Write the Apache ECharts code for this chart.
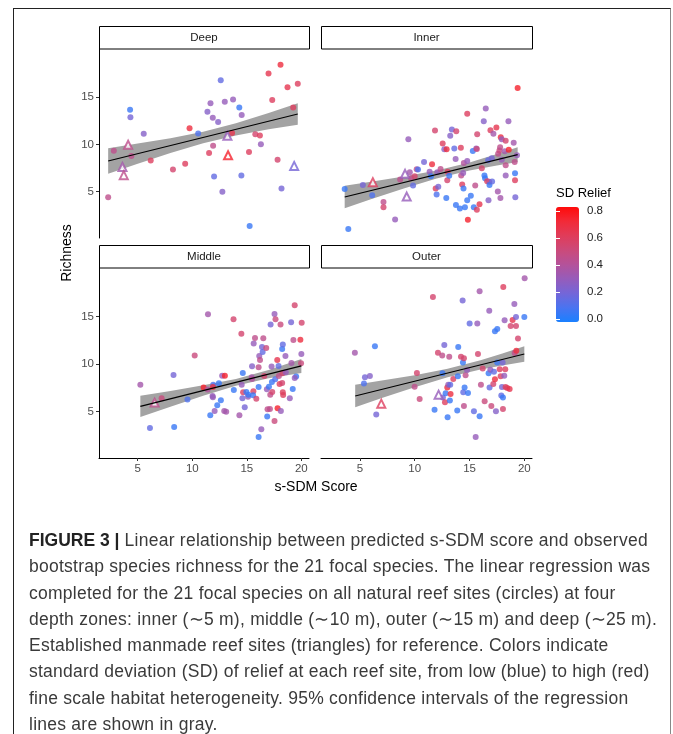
<!DOCTYPE html>
<html>
<head>
<meta charset="utf-8">
<script src="https://cdn.jsdelivr.net/npm/echarts@6/dist/echarts.min.js"></script>
<style>
  html, body { margin: 0; padding: 0; background: #fff; }
  #wrap { position: relative; width: 673px; height: 734px; overflow: hidden; }
  #chart { position: absolute; left: 0; top: 0; width: 673px; height: 734px; }
  #frame {
    position: absolute; left: 13px; top: 8px; width: 656px; height: 760px;
    border-left: 1.5px solid #222; border-top: 1.5px solid #222; border-right: 1.5px solid #888;
    pointer-events: none;
  }
  #caption {
    position: absolute; left: 29px; top: 527px; width: 640px;
    font-family: "Liberation Sans", Arial, sans-serif; font-size: 17.5px; line-height: 26.3px;
    letter-spacing: 0.25px; color: #3a3a3a; white-space: nowrap;
  }
  #caption b { color: #222; letter-spacing: 0; }
</style>
</head>
<body>
<div id="wrap">
  <div id="chart"></div>
  <div id="frame"></div>
  <div id="caption">
    <b>FIGURE 3 |</b> Linear relationship between predicted s-SDM score and observed<br>
    bootstrap species richness for the 21 focal species. The linear regression was<br>
    completed for the 21 focal species on all natural reef sites (circles) at four<br>
    depth zones: inner (∼5 m), middle (∼10 m), outer (∼15 m) and deep (∼25 m).<br>
    Established manmade reef sites (triangles) for reference. Colors indicate<br>
    standard deviation (SD) of relief at each reef site, from low (blue) to high (red)<br>
    fine scale habitat heterogeneity. 95% confidence intervals of the regression<br>
    lines are shown in gray.
  </div>
</div>
<script>
// panels (facets)
const panelNames = ["Deep", "Inner", "Middle", "Outer"];
const xTicks = [5, 10, 15, 20];
const yTicks = [5, 10, 15];
const sdTicks = [0, 0.2, 0.4, 0.6, 0.8];

// [s-SDM score, richness, SD relief]
const deepDots = [
  [2.29, 4.41, 0.45], [2.81, 9.34, 0.45], [4.30, 13.67, 0.05], [4.33, 12.87, 0.2], [4.42, 8.78, 0.45],
  [5.55, 11.12, 0.25], [6.19, 8.29, 0.6], [8.23, 7.34, 0.55], [9.35, 7.97, 0.6], [9.75, 11.71, 0.7],
  [10.54, 11.15, 0.1], [11.39, 13.46, 0.25], [11.67, 14.37, 0.3], [11.88, 12.83, 0.3], [12.37, 12.38, 0.25],
  [11.54, 9.09, 0.6], [11.91, 9.86, 0.45], [12.61, 16.78, 0.15], [12.98, 14.51, 0.3], [13.74, 14.76, 0.3],
  [12.00, 6.61, 0.15], [12.76, 5.0, 0.25], [13.65, 11.22, 0.65], [14.31, 13.92, 0.05], [14.53, 13.11, 0.3],
  [14.50, 6.71, 0.15], [15.20, 9.20, 0.6], [15.26, 1.36, 0.05], [15.78, 11.08, 0.55], [16.20, 10.94, 0.6],
  [16.29, 10.03, 0.3], [16.99, 17.52, 0.65], [17.33, 14.69, 0.6], [17.82, 8.39, 0.55], [18.09, 18.43, 0.7],
  [18.18, 5.35, 0.2], [18.73, 16.05, 0.65], [19.25, 13.92, 0.6], [19.67, 16.43, 0.6]
];
const deepTris = [
  [4.12, 9.97, 0.45], [3.60, 7.62, 0.35], [3.72, 6.75, 0.45], [13.22, 10.91, 0.3], [13.28, 8.85, 0.75], [19.34, 7.73, 0.2]
];
const deepFit = [[2.29, 8.25], [19.67, 13.22]];
const deepBandX = [2.29, 5, 8, 11, 14, 17, 19.67];
const deepBandLo = [6.90, 7.97, 9.10, 10.13, 10.95, 11.60, 12.09];
const deepBandHi = [9.60, 10.09, 10.66, 11.35, 12.25, 13.32, 14.35];

const innerDots = [
  [3.61, 5.28, 0.05], [3.94, 1.05, 0.05], [5.27, 5.70, 0.2], [6.12, 4.62, 0.1], [7.15, 3.92, 0.45],
  [7.15, 3.36, 0.55], [8.21, 2.06, 0.3], [8.67, 6.29, 0.45], [9.42, 10.56, 0.3], [9.55, 7.06, 0.35],
  [9.67, 6.43, 0.45], [9.85, 5.66, 0.15], [10.00, 6.64, 0.55], [10.18, 7.38, 0.45], [10.30, 7.34, 0.1],
  [10.85, 8.15, 0.2], [11.36, 7.10, 0.3], [11.48, 6.64, 0.05], [11.58, 7.90, 0.7], [11.85, 11.47, 0.55],
  [11.91, 5.35, 0.6], [12.00, 4.69, 0.1], [12.06, 7.06, 0.3], [12.15, 5.52, 0.2], [12.36, 7.41, 0.45],
  [12.55, 10.10, 0.6], [12.70, 9.48, 0.25], [12.91, 9.48, 0.7], [12.88, 4.34, 0.05], [13.00, 7.10, 0.6],
  [12.97, 6.22, 0.55], [13.15, 6.68, 0.05], [13.24, 10.91, 0.25], [13.39, 11.57, 0.2], [13.61, 9.58, 0.15],
  [13.73, 8.46, 0.3], [13.79, 11.40, 0.55], [13.76, 3.60, 0.05], [14.12, 3.22, 0.05], [14.21, 9.65, 0.6],
  [14.24, 6.71, 0.45], [14.33, 5.77, 0.6], [14.45, 5.35, 0.05], [14.42, 6.99, 0.3], [14.58, 3.36, 0.05],
  [14.48, 8.04, 0.4], [14.79, 13.25, 0.6], [14.79, 4.09, 0.05], [14.85, 2.03, 0.75], [14.79, 8.25, 0.3],
  [15.12, 4.58, 0.05], [15.30, 9.30, 0.05], [15.39, 3.36, 0.05], [15.52, 5.66, 0.45], [15.61, 9.58, 0.3],
  [15.67, 9.51, 0.5], [15.70, 11.08, 0.55], [15.67, 3.08, 0.6], [15.91, 3.67, 0.65], [16.12, 7.48, 0.55],
  [16.30, 12.45, 0.25], [16.36, 6.71, 0.05], [16.42, 6.43, 0.05], [16.48, 13.81, 0.3], [16.61, 6.11, 0.6],
  [16.70, 8.32, 0.15], [16.73, 4.09, 0.25], [16.79, 6.05, 0.45], [16.82, 5.70, 0.05], [16.91, 11.50, 0.6],
  [17.06, 6.08, 0.15], [17.03, 8.53, 0.2], [17.18, 11.12, 0.35], [17.45, 11.78, 0.65], [17.58, 5.03, 0.35],
  [17.61, 9.02, 0.45], [17.73, 9.37, 0.5], [17.79, 9.69, 0.45], [17.85, 10.77, 0.7], [17.82, 4.34, 0.35],
  [17.94, 10.56, 0.3], [17.94, 8.39, 0.3], [18.21, 9.27, 0.35], [18.30, 10.38, 0.55], [18.30, 6.71, 0.3],
  [18.30, 7.80, 0.45], [18.55, 12.45, 0.3], [18.58, 9.44, 0.75], [19.03, 10.17, 0.35], [19.12, 8.15, 0.45],
  [19.15, 6.96, 0.05], [19.15, 6.22, 0.6], [19.18, 4.41, 0.2], [19.33, 8.85, 0.3], [19.39, 15.98, 0.75]
];
const innerTris = [[6.18, 6.01, 0.6], [9.12, 6.89, 0.3], [9.27, 4.48, 0.3]];
const innerFit = [[3.61, 4.44], [19.39, 8.92]];
const innerBandX = [3.61, 6, 9, 12, 15, 17.5, 19.39];
const innerBandLo = [3.26, 4.19, 5.33, 6.39, 7.24, 7.78, 8.15];
const innerBandHi = [5.62, 6.05, 6.61, 7.25, 8.10, 8.98, 9.69];

const middleDots = [
  [5.24, 7.82, 0.35], [6.12, 3.26, 0.15], [7.19, 6.39, 0.5], [8.28, 8.84, 0.2], [8.34, 3.37, 0.05],
  [9.56, 6.25, 0.1], [10.22, 10.88, 0.5], [11.04, 7.51, 0.75], [11.44, 15.23, 0.35], [11.41, 7.30, 0.4],
  [11.65, 4.60, 0.05], [11.92, 7.82, 0.1], [11.89, 7.58, 0.7], [11.86, 6.63, 0.3], [11.89, 6.49, 0.3],
  [12.05, 5.05, 0.3], [12.29, 5.65, 0.05], [12.44, 7.96, 0.05], [12.62, 6.18, 0.05], [12.74, 8.77, 0.3],
  [12.93, 5.05, 0.35], [12.99, 8.77, 0.75], [13.11, 4.98, 0.35], [13.78, 14.70, 0.55], [13.81, 7.26, 0.05],
  [14.32, 4.60, 0.35], [14.50, 13.19, 0.55], [14.53, 7.82, 0.3], [14.63, 9.05, 0.05], [14.60, 6.39, 0.2],
  [14.66, 7.02, 0.6], [14.81, 5.44, 0.2], [14.96, 7.05, 0.05], [15.11, 6.56, 0.3], [15.14, 6.77, 0.05],
  [15.48, 9.75, 0.25], [15.45, 8.60, 0.35], [15.48, 8.42, 0.4], [15.60, 7.12, 0.6], [15.57, 6.70, 0.05],
  [15.63, 12.14, 0.3], [15.75, 12.74, 0.45], [15.87, 6.35, 0.55], [16.08, 9.65, 0.45], [16.08, 7.58, 0.05],
  [16.08, 2.32, 0.05], [16.14, 10.84, 0.3], [16.21, 10.42, 0.45], [16.33, 3.12, 0.3], [16.39, 11.79, 0.2],
  [16.45, 11.26, 0.15], [16.51, 12.70, 0.45], [16.60, 8.74, 0.55], [16.78, 11.68, 0.5], [16.84, 7.33, 0.3],
  [16.87, 4.46, 0.05], [16.90, 5.23, 0.45], [17.03, 7.61, 0.05], [17.12, 5.26, 0.45], [17.15, 6.77, 0.45],
  [17.18, 14.14, 0.2], [17.27, 9.72, 0.3], [17.30, 8.11, 0.05], [17.33, 7.05, 0.55], [17.54, 4.0, 0.5],
  [17.54, 15.26, 0.3], [17.63, 14.70, 0.5], [17.60, 8.39, 0.1], [17.79, 10.42, 0.65], [17.82, 5.33, 0.75],
  [17.94, 8.74, 0.45], [17.91, 9.79, 0.15], [18.00, 7.89, 0.6], [18.09, 14.14, 0.5], [18.12, 5.05, 0.3],
  [18.24, 11.58, 0.05], [18.30, 12.04, 0.15], [18.27, 9.02, 0.55], [18.24, 8.0, 0.55], [18.30, 7.02, 0.6],
  [18.33, 6.74, 0.6], [18.54, 10.84, 0.3], [18.57, 9.12, 0.3], [18.94, 6.39, 0.3], [19.06, 14.39, 0.2],
  [19.09, 10.11, 0.35], [19.21, 7.37, 0.05], [19.27, 12.53, 0.45], [19.39, 16.18, 0.55], [19.52, 8.67, 0.05],
  [19.39, 8.53, 0.3], [19.91, 12.56, 0.7], [20.03, 14.35, 0.55], [19.97, 10.07, 0.5], [20.0, 11.05, 0.3]
];
const middleTris = [[6.55, 5.93, 0.45]];
const middleFit = [[5.24, 5.54], [20.0, 9.79]];
const middleBandX = [5.24, 8, 11, 14, 17, 20];
const middleBandLo = [4.42, 5.50, 6.65, 7.70, 8.50, 9.05];
const middleBandHi = [6.66, 7.16, 7.75, 8.42, 9.36, 10.53];

const outerDots = [
  [4.54, 11.19, 0.35], [5.37, 7.93, 0.1], [5.46, 8.60, 0.2], [5.91, 8.74, 0.25], [6.37, 11.86, 0.05],
  [6.49, 4.67, 0.2], [9.99, 7.61, 0.45], [10.20, 9.05, 0.55], [10.45, 6.32, 0.5], [11.66, 17.05, 0.55],
  [11.81, 5.19, 0.05], [12.12, 11.19, 0.55], [12.54, 9.02, 0.05], [12.51, 10.88, 0.45], [12.70, 12.0, 0.2],
  [12.57, 6.46, 0.2], [12.76, 5.96, 0.6], [12.82, 6.91, 0.05], [12.97, 7.51, 0.7], [13.00, 4.39, 0.05],
  [13.06, 7.82, 0.3], [13.15, 10.77, 0.45], [13.21, 6.14, 0.05], [13.27, 6.84, 0.7], [13.24, 7.82, 0.15],
  [13.52, 8.42, 0.6], [13.88, 5.09, 0.05], [13.97, 11.79, 0.05], [13.94, 8.70, 0.05], [14.22, 10.77, 0.55],
  [14.40, 10.14, 0.05], [14.37, 16.67, 0.2], [14.49, 10.60, 0.55], [14.49, 5.58, 0.45], [14.43, 7.02, 0.15],
  [14.55, 7.51, 0.05], [14.64, 8.81, 0.45], [14.77, 9.37, 0.3], [14.86, 6.95, 0.05], [15.01, 14.25, 0.15],
  [15.40, 5.02, 0.15], [15.56, 2.32, 0.3], [15.71, 14.25, 0.3], [15.77, 11.05, 0.55], [15.92, 17.65, 0.35],
  [15.92, 4.49, 0.05], [16.04, 7.82, 0.45], [16.20, 9.51, 0.55], [16.38, 6.07, 0.5], [16.74, 9.02, 0.05],
  [16.80, 15.61, 0.3], [16.83, 7.51, 0.15], [16.90, 9.40, 0.3], [16.99, 5.58, 0.5], [17.17, 7.89, 0.55],
  [17.23, 9.19, 0.15], [17.32, 8.39, 0.7], [17.32, 13.44, 0.05], [17.41, 5.02, 0.25], [17.53, 13.68, 0.05],
  [17.53, 10.14, 0.05], [17.75, 9.44, 0.6], [17.84, 8.70, 0.6], [17.90, 6.67, 0.15], [17.96, 7.58, 0.2],
  [18.02, 10.14, 0.2], [18.08, 18.11, 0.6], [18.05, 5.26, 0.55], [18.05, 6.46, 0.05], [18.17, 8.77, 0.3],
  [18.20, 14.60, 0.3], [18.26, 9.44, 0.6], [18.29, 7.58, 0.6], [18.44, 7.47, 0.6], [18.66, 7.37, 0.65],
  [18.75, 14.0, 0.55], [18.93, 14.63, 0.65], [19.09, 16.32, 0.3], [19.12, 11.16, 0.45], [19.24, 14.95, 0.2],
  [19.24, 14.0, 0.55], [19.27, 11.40, 0.7], [19.42, 12.67, 0.55], [20.0, 14.95, 0.05], [20.03, 19.02, 0.35]
];
const outerTris = [[6.95, 5.82, 0.6], [12.18, 6.77, 0.3]];
const outerFit = [[4.57, 6.63], [20.0, 11.05]];
const outerBandX = [4.57, 7, 10, 13, 16, 18, 20];
const outerBandLo = [5.45, 6.41, 7.56, 8.61, 9.42, 9.85, 10.23];
const outerBandHi = [7.81, 8.25, 8.82, 9.49, 10.38, 11.11, 11.87];

const FONT = '"Liberation Sans", Arial, Helvetica, sans-serif';
const sdColors = ["#1a80ff", "#4a74f0", "#7466d8", "#965cba", "#b4529a", "#cb4a7a", "#e03c5a", "#f22a38", "#ff0a0a"];

const panels = [
  { dots: deepDots, tris: deepTris, fit: deepFit, bx: deepBandX, lo: deepBandLo, hi: deepBandHi },
  { dots: innerDots, tris: innerTris, fit: innerFit, bx: innerBandX, lo: innerBandLo, hi: innerBandHi },
  { dots: middleDots, tris: middleTris, fit: middleFit, bx: middleBandX, lo: middleBandLo, hi: middleBandHi },
  { dots: outerDots, tris: outerTris, fit: outerFit, bx: outerBandX, lo: outerBandLo, hi: outerBandHi }
];

const grids = [
  { left: 99, top: 49, width: 210, height: 189 },
  { left: 321, top: 49, width: 211, height: 189 },
  { left: 99, top: 268, width: 210, height: 190 },
  { left: 321, top: 268, width: 211, height: 190 },
  { left: 556, top: 207, width: 23, height: 115 } // colour bar
];

const xAxes = [];
const yAxes = [];
const series = [];
const pointSeries = [];
const graphics = [];

panels.forEach((p, i) => {
  const bottomRow = i >= 2;
  const leftCol = i % 2 === 0;
  xAxes.push({
    type: "value", gridIndex: i, min: 1.45, max: 20.7,
    splitLine: { show: false },
    axisLine: { show: bottomRow, onZero: false, lineStyle: { color: "#000", width: 1 } },
    axisTick: { show: bottomRow, length: 3, customValues: xTicks, lineStyle: { color: "#333" } },
    axisLabel: { show: bottomRow, customValues: xTicks, color: "#4d4d4d", fontSize: 11.5, fontFamily: FONT, margin: 5 }
  });
  yAxes.push({
    type: "value", gridIndex: i, min: 0.1, max: 20.1,
    splitLine: { show: false },
    axisLine: { show: leftCol, onZero: false, lineStyle: { color: "#000", width: 1 } },
    axisTick: { show: leftCol, length: 3, customValues: yTicks, lineStyle: { color: "#333" } },
    axisLabel: { show: leftCol, customValues: yTicks, color: "#4d4d4d", fontSize: 11.5, fontFamily: FONT, margin: 5 }
  });

  // confidence band: one polygon through the library's coordinate system
  series.push({
    type: "custom", xAxisIndex: i, yAxisIndex: i, silent: true,
    data: [[p.bx[0], p.lo[0]]],
    renderItem: (params, api) => {
      const pts = [];
      p.bx.forEach((x, k) => pts.push(api.coord([x, p.hi[k]])));
      for (let k = p.bx.length - 1; k >= 0; k--) pts.push(api.coord([p.bx[k], p.lo[k]]));
      return { type: "polygon", shape: { points: pts }, style: { fill: "#a3a3a3" } };
    }
  });
  series.push({
    type: "line", xAxisIndex: i, yAxisIndex: i, silent: true,
    symbol: "none", lineStyle: { color: "#000", width: 1.2 },
    data: p.fit
  });
  pointSeries.push(series.length);
  series.push({
    type: "scatter", xAxisIndex: i, yAxisIndex: i, symbol: "circle", symbolSize: 6,
    data: p.dots
  });
  pointSeries.push(series.length);
  series.push({
    type: "scatter", xAxisIndex: i, yAxisIndex: i, symbol: "emptyTriangle", symbolSize: 8,
    itemStyle: { borderWidth: 0.7 },
    data: p.tris
  });

  // facet strip
  const g = grids[i];
  graphics.push({
    type: "rect", shape: { x: g.left + 0.5, y: g.top - 22.5, width: g.width, height: 22.5 },
    style: { fill: "#fff", stroke: "#000", lineWidth: 1 }
  });
  graphics.push({
    type: "text", x: g.left + g.width / 2, y: g.top - 11,
    style: { text: panelNames[i], font: "11.5px " + FONT, fill: "#1a1a1a", align: "center", verticalAlign: "middle" }
  });
});

// colour bar label axes
xAxes.push({ type: "value", gridIndex: 4, show: false });
yAxes.push({
  type: "value", gridIndex: 4, min: -0.02, max: 0.83, position: "right", z: 10,
  splitLine: { show: false }, axisLine: { show: false },
  axisTick: { show: true, inside: true, length: 4, customValues: sdTicks, lineStyle: { color: "#fff", width: 1 } },
  axisLabel: { customValues: sdTicks, formatter: v => v.toFixed(1), color: "#222", fontSize: 11.5, fontFamily: FONT, margin: 8 }
});
yAxes.push({
  type: "value", gridIndex: 4, min: -0.02, max: 0.83, position: "left", z: 10,
  splitLine: { show: false }, axisLine: { show: false },
  axisTick: { show: true, inside: true, length: 4, customValues: sdTicks, lineStyle: { color: "#fff", width: 1 } },
  axisLabel: { show: false }
});

graphics.push({
  type: "text", x: 67, y: 253, rotation: Math.PI / 2,
  style: { text: "Richness", font: "14px " + FONT, fill: "#000", align: "center", verticalAlign: "middle" }
});
graphics.push({
  type: "text", x: 316, y: 487,
  style: { text: "s-SDM Score", font: "14px " + FONT, fill: "#000", align: "center", verticalAlign: "middle" }
});
graphics.push({
  type: "text", x: 556, y: 193,
  style: { text: "SD Relief", font: "13px " + FONT, fill: "#000", align: "left", verticalAlign: "middle" }
});

const chart = echarts.init(document.getElementById("chart"));
chart.setOption({
  animation: false,
  grid: grids,
  xAxis: xAxes,
  yAxis: yAxes,
  visualMap: {
    type: "continuous", min: -0.02, max: 0.83, dimension: 2, seriesIndex: pointSeries,
    calculable: false, itemWidth: 23, itemHeight: 115, left: 556, top: 207, padding: 0,
    text: null, inRange: { color: sdColors }
  },
  graphic: graphics,
  series: series
});
</script>
</body>
</html>
